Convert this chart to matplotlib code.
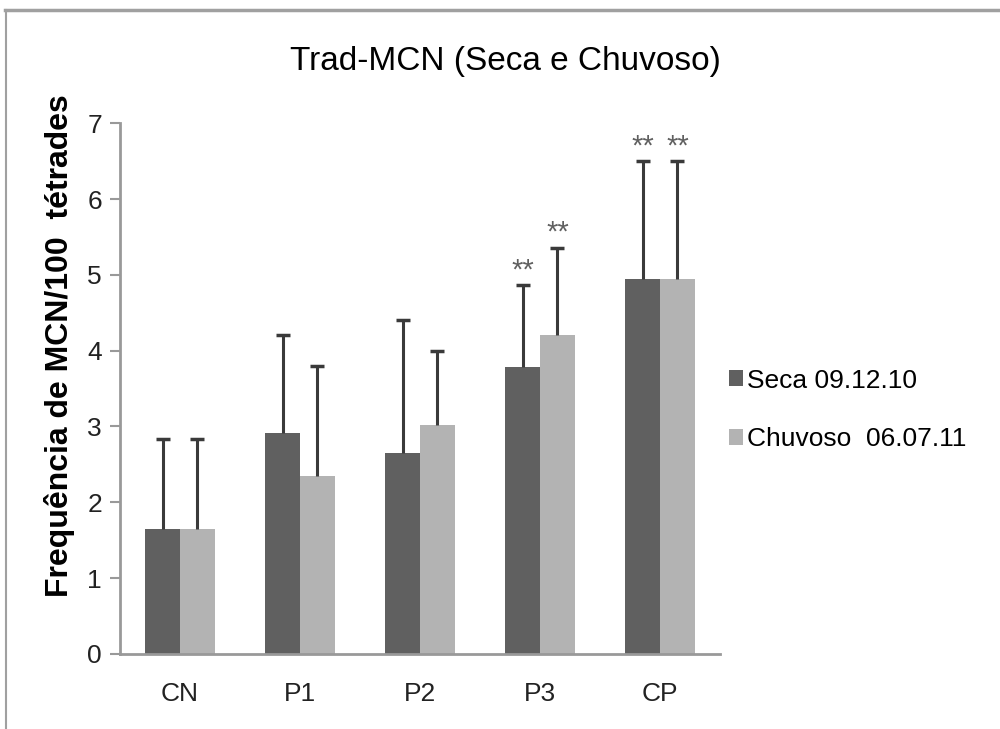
import matplotlib.pyplot as plt
import numpy as np
from matplotlib.lines import Line2D

# Data
categories = ['CN', 'P1', 'P2', 'P3', 'CP']
seca = [1.65, 2.91, 2.65, 3.78, 4.94]
seca_err = [1.18, 1.30, 1.75, 1.08, 1.56]
chuvoso = [1.65, 2.35, 3.02, 4.21, 4.94]
chuvoso_err = [1.18, 1.45, 0.98, 1.15, 1.56]
seca_stars = ['', '', '', '**', '**']
chuvoso_stars = ['', '', '', '**', '**']

plt.rcParams['font.family'] = ['Liberation Sans', 'DejaVu Sans']

fig = plt.figure(figsize=(10, 7.29), dpi=100)
ax = fig.add_axes([0.12, 0.103, 0.60, 0.728])

# outer frame like the pasted screenshot
fig.add_artist(Line2D([0.005, 1.0], [0.986, 0.986], transform=fig.transFigure,
                      color='#a0a0a0', lw=2.5))
fig.add_artist(Line2D([0.006, 0.006], [0.0, 0.986], transform=fig.transFigure,
                      color='#a0a0a0', lw=1.5))

x = np.arange(len(categories))
w = 0.29
series = [(x - w / 2, np.array(seca), np.array(seca_err), seca_stars, '#606060', 'Seca 09.12.10'),
          (x + w / 2, np.array(chuvoso), np.array(chuvoso_err), chuvoso_stars, '#b3b3b3', 'Chuvoso  06.07.11')]

for xs, vals, errs, stars, col, lab in series:
    ax.bar(xs, vals, w, color=col, label=lab, zorder=2)
    # upper error bars only
    ax.vlines(xs, vals, vals + errs, color='#3a3a3a', lw=2.2, zorder=3)
    ax.plot(xs, vals + errs, ls='none', marker='_', ms=10, mew=2.5,
            color='#3a3a3a', zorder=3)
    for xi, top, st in zip(xs, vals + errs, stars):
        if st:
            ax.text(xi, top + 0.01, st, ha='center', va='bottom',
                    fontsize=21, color='#606060')

ax.set_xlim(-0.5, 4.5)
ax.set_ylim(0, 7)
ax.set_yticks(range(8))
ax.set_xticks(x)
ax.set_xticklabels(categories)
ax.tick_params(axis='y', length=7, width=1.5, color='#999999', labelsize=19,
               pad=6, labelcolor='#222222')
ax.tick_params(axis='x', length=0, labelsize=19, pad=20, labelcolor='#222222')
for s in ['top', 'right']:
    ax.spines[s].set_visible(False)
for s in ['left', 'bottom']:
    ax.spines[s].set_color('#999999')
    ax.spines[s].set_linewidth(2)

ax.set_ylabel('Frequência de MCN/100  tétrades', fontsize=23, fontweight='bold')
ax.yaxis.set_label_coords(-0.075, 0.58)
fig.text(0.505, 0.915, 'Trad-MCN (Seca e Chuvoso)', ha='center', va='center',
         fontsize=24)

ax.legend(loc='center left', bbox_to_anchor=(0.975, 0.46), frameon=False,
          fontsize=19, handlelength=0.55, handleheight=0.55, handletextpad=0.15,
          labelspacing=1.3)

fig.savefig('out.png', dpi=100)
